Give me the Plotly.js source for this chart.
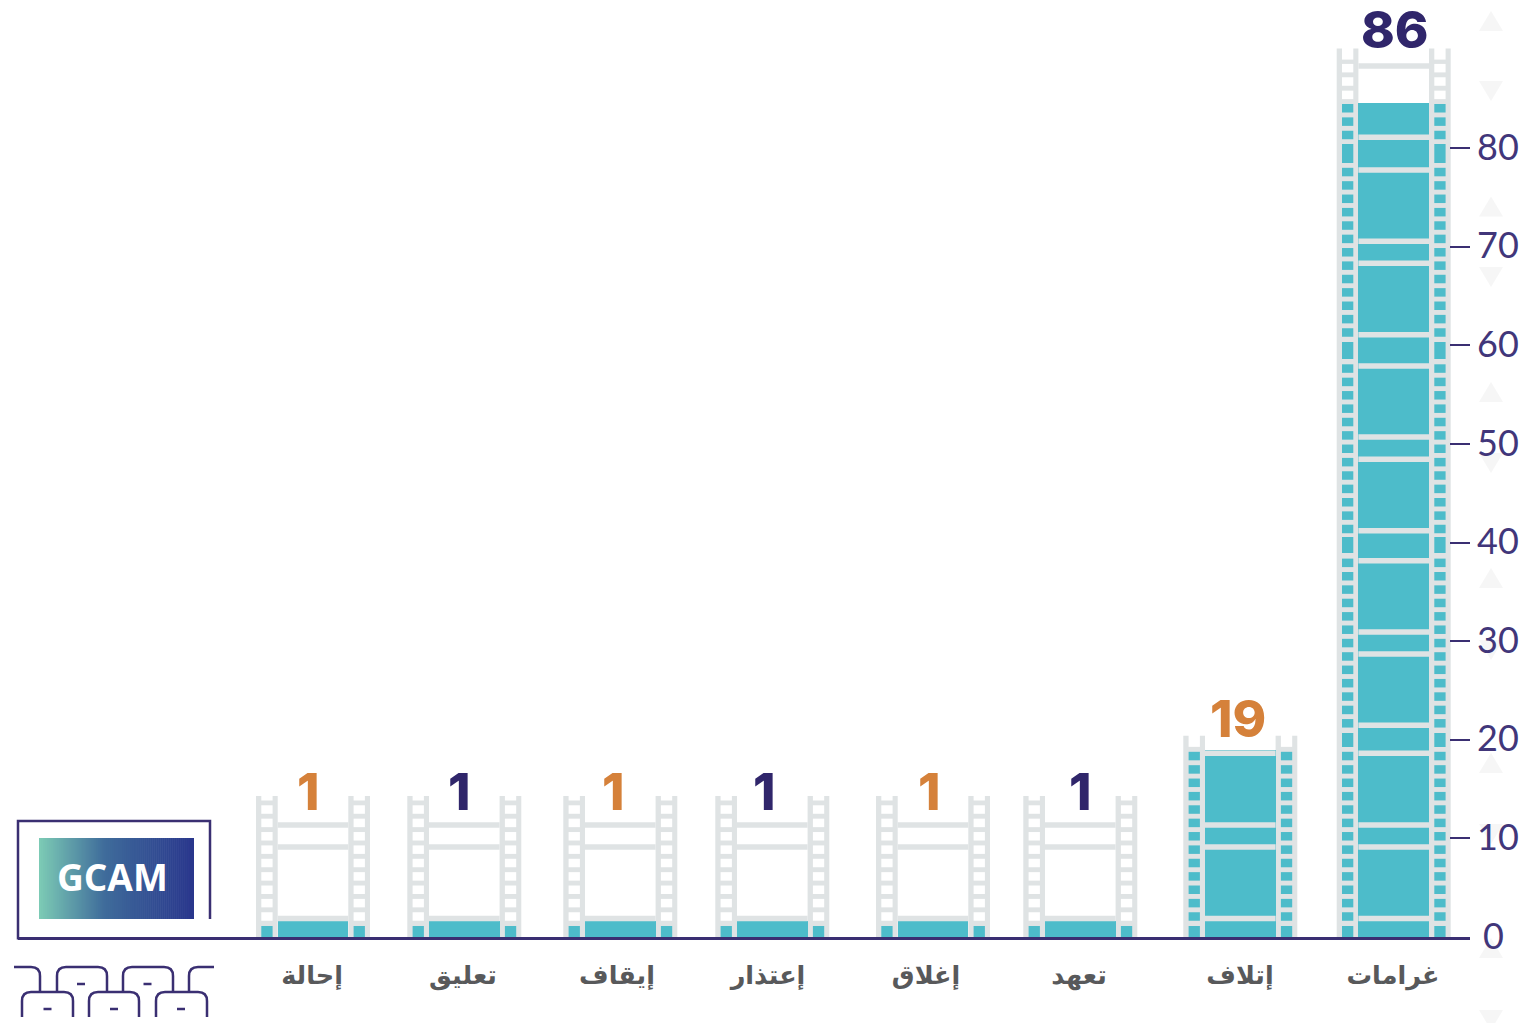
<!DOCTYPE html>
<html>
<head>
<meta charset="utf-8">
<script src="https://cdn.plot.ly/plotly-3.0.1.min.js"></script>
<style>html,body{margin:0;padding:0;background:#fff;overflow:hidden}#chart{width:1526px;height:1023px}</style>
</head>
<body>
<div id="chart"></div>
<script>
// ---- data ----
const categories = ["إحالة","تعليق","إيقاف","إعتذار","إغلاق","تعهد","إتلاف","غرامات"];
const values = [1,1,1,1,1,1,19,86];
// height of the teal fill as pictured, on the value axis
const fillLevels = [1.6,1.6,1.6,1.6,1.6,1.6,18.95,84.6];
// height of the grey film strip as pictured, on the value axis
const stripLevels = [14.3,14.3,14.3,14.3,14.3,14.3,20.4,90.1];
const yTicks = [0,10,20,30,40,50,60,70,80];

// ---- layout constants (pixels of the 1526x1023 page) ----
const NAVY="#3a2f72", DARK="#30266b", ORANGE="#d5813a", TEAL="#4dbcca", GREY="#dfe3e4", TXT="#58595b";
const PLOT_L=18, PLOT_R=1470, BASE=937, PXU=9.86;
const stripLeft=[256,407.3,563.3,715.3,876,1023.3,1183.3,1336.7];
const labelX=[312,463,617,768,926,1079,1240,1393];
const numX=[308.5,459.5,613,764,929,1080,1238,1394.5];
const numY=[791.5,791.5,791.5,791.5,791.5,791.5,718.5,29];
const numColors=[ORANGE,DARK,ORANGE,DARK,ORANGE,DARK,ORANGE,DARK];
const STRIP_W=114, RAIL_W=21.7, HOLE_M=5.3, HOLE_W=11.3, HOLE_H=8.5, HOLE_STEP=13.37, LINE_H=5.4;
const frameLines=[918.5,847,825,753.3,725.3,654,632,560.7,530.7,459.3,437,366,334.7,263.3,241.3,170,137.3,66];
const mergedHoles=[[926,937],[733,747],[537,553],[342,359],[144,163]];
const holeRuns=[[916.5,13],[723.3,13],[529,13],[332.5,13],[135,6]];
const upTri=[21,206.5,392,578,763,948], downTri=[91,277,463,650,834,1020];

const yOf=p=>(BASE-p)/PXU;
const pxOf=v=>BASE-v*PXU;
const PX=p=>(p-PLOT_L)/(PLOT_R-PLOT_L);
const PY=p=>(BASE-p)/BASE;
const shapes=[];
const rect=(x0,x1,p0,p1,c,layer)=>shapes.push({type:"rect",xref:"x",yref:"y",x0,x1,y0:yOf(p1),y1:yOf(p0),
  fillcolor:c,line:{width:0},layer});
const paperPath=(d,color,width,fill)=>shapes.push({type:"path",xref:"paper",yref:"paper",path:d,layer:"below",
  line:{color:color||"rgba(0,0,0,0)",width:width||0},fillcolor:fill||"rgba(0,0,0,0)"});
const P=(x,y)=>PX(x)+","+PY(y);

// film strips
stripLeft.forEach((L,i)=>{
  const top=pxOf(stripLevels[i]), fillTop=pxOf(fillLevels[i]);
  const notch = stripLevels[i]>18 ? top+11 : top+4.5;
  [L, L+STRIP_W-RAIL_W].forEach(rx=>{
    rect(rx,rx+RAIL_W,top,BASE,GREY,"below");
    const h0=rx+HOLE_M,h1=h0+HOLE_W;
    rect(h0,h1,top-1,notch,"#ffffff","above");
    holeRuns.forEach(([start,n])=>{
      for(let k=0;k<n;k++){
        const c=start-k*HOLE_STEP;
        if(c-HOLE_H/2<=notch) continue;
        rect(h0,h1,c-HOLE_H/2,c+HOLE_H/2,c>fillTop?TEAL:"#ffffff","above");
      }
    });
    mergedHoles.forEach(([a,b])=>{
      if(a<=notch) return;
      rect(h0,h1,a,b,TEAL,"above");
    });
  });
  frameLines.forEach(c=>{
    if(c-LINE_H/2<=notch) return;
    rect(L+RAIL_W,L+STRIP_W-RAIL_W,c-LINE_H/2,c+LINE_H/2,GREY,"above");
  });
});

// faint triangles on the right
upTri.forEach(c=>paperPath(`M${P(1479,c+10)} L${P(1503,c+10)} L${P(1491,c-10)} Z`,null,0,"#f6f6f6"));
downTri.forEach(c=>paperPath(`M${P(1479,c-10)} L${P(1503,c-10)} L${P(1491,c+10)} Z`,null,0,"#f6f6f6"));

// screen frame
paperPath(`M${P(210,919)} L${P(210,821)} L${P(18,821)} L${P(18,938.3)} L${P(76,938.3)}`,NAVY,2.5);

// GCAM gradient plate
const stops=[[0,[124,202,181]],[0.42,[63,108,155]],[1,[41,54,140]]];
const GX0=39,GX1=194,GN=78;
for(let i=0;i<GN;i++){
  const t=i/(GN-1);
  let a=stops[0],b=stops[1]; if(t>stops[1][0]){a=stops[1];b=stops[2];}
  const u=(t-a[0])/(b[0]-a[0]);
  const c=a[1].map((v,j)=>Math.round(v+(b[1][j]-v)*u));
  const x0=GX0+(GX1-GX0)*i/GN, x1=Math.min(GX1,GX0+(GX1-GX0)*(i+1)/GN+0.6);
  shapes.push({type:"rect",xref:"paper",yref:"paper",x0:PX(x0),x1:PX(x1),y0:PY(919),y1:PY(838),
    fillcolor:`rgb(${c.join(",")})`,line:{width:0},layer:"below"});
}

// cinema seats
const seat=(l,r,t,b)=>`M${P(l,b)} L${P(l,t+9)} Q${P(l,t)} ${P(l+9,t)} L${P(r-9,t)} Q${P(r,t)} ${P(r,t+9)} L${P(r,b)}`;
[[57,107],[123,173]].forEach(([l,r])=>paperPath(seat(l,r,967,991),NAVY,2.5));
[[22,73],[89,139],[156,207]].forEach(([l,r])=>paperPath(seat(l,r,992,1017),NAVY,2.5));
paperPath(`M${P(14,967)} L${P(31,967)} Q${P(40,967)} ${P(40,976)} L${P(40,991)}`,NAVY,2.5);
paperPath(`M${P(214,967)} L${P(198,967)} Q${P(189,967)} ${P(189,976)} L${P(189,991)}`,NAVY,2.5);
[[81,984],[147.5,984],[47.5,1009],[114,1009],[181,1009]].forEach(([x,y])=>
  paperPath(`M${P(x-4,y)} L${P(x+4,y)}`,NAVY,2.5));

const annotations=values.map((v,i)=>({
  xref:"x",yref:"y",x:numX[i],y:yOf(numY[i]),text:String(v),showarrow:false,xanchor:"center",yanchor:"middle",
  font:{family:"Inter, Lato, sans-serif",size:51,weight:800,color:numColors[i]}
}));
annotations.push({xref:"paper",yref:"paper",x:PX(113),y:PY(876.5),text:"GCAM",showarrow:false,xanchor:"center",yanchor:"middle",
  font:{family:"Open Sans, sans-serif",size:37,weight:700,color:"#ffffff"}});

const traces=[{
  type:"bar",x:stripLeft.map(l=>l+STRIP_W/2),y:fillLevels,width:STRIP_W-2*RAIL_W,
  marker:{color:TEAL,line:{width:0}},customdata:values,hoverinfo:"skip",showlegend:false
}];

const layout={
  width:1526,height:1023,margin:{l:PLOT_L,r:1526-PLOT_R,t:0,b:1023-BASE,pad:0},
  paper_bgcolor:"#fff",plot_bgcolor:"rgba(0,0,0,0)",showlegend:false,hovermode:false,
  xaxis:{range:[PLOT_L,PLOT_R],tickmode:"array",tickvals:labelX,ticktext:categories,ticks:"",showgrid:false,zeroline:false,
    showline:true,linecolor:NAVY,linewidth:2.5,ticklabelstandoff:14,
    tickfont:{family:"DejaVu Sans, Noto Sans, sans-serif",size:25.5,weight:700,color:TXT}},
  yaxis:{side:"right",range:[0,BASE/PXU],tickmode:"array",tickvals:yTicks,ticktext:yTicks.map(v=>v===0?"\u2006"+v:String(v)),
    ticks:"inside",ticklen:20,tickwidth:2,tickcolor:NAVY,showgrid:false,zeroline:false,showline:false,anchor:"x",
    ticklabelstandoff:6,ticklabelshift:-1,tickfont:{family:"Lato, sans-serif",size:36,weight:400,color:"#41367a"}},
  shapes,annotations,bargap:0
};
Plotly.newPlot("chart",traces,layout,{displayModeBar:false,staticPlot:true});
</script>
</body>
</html>
